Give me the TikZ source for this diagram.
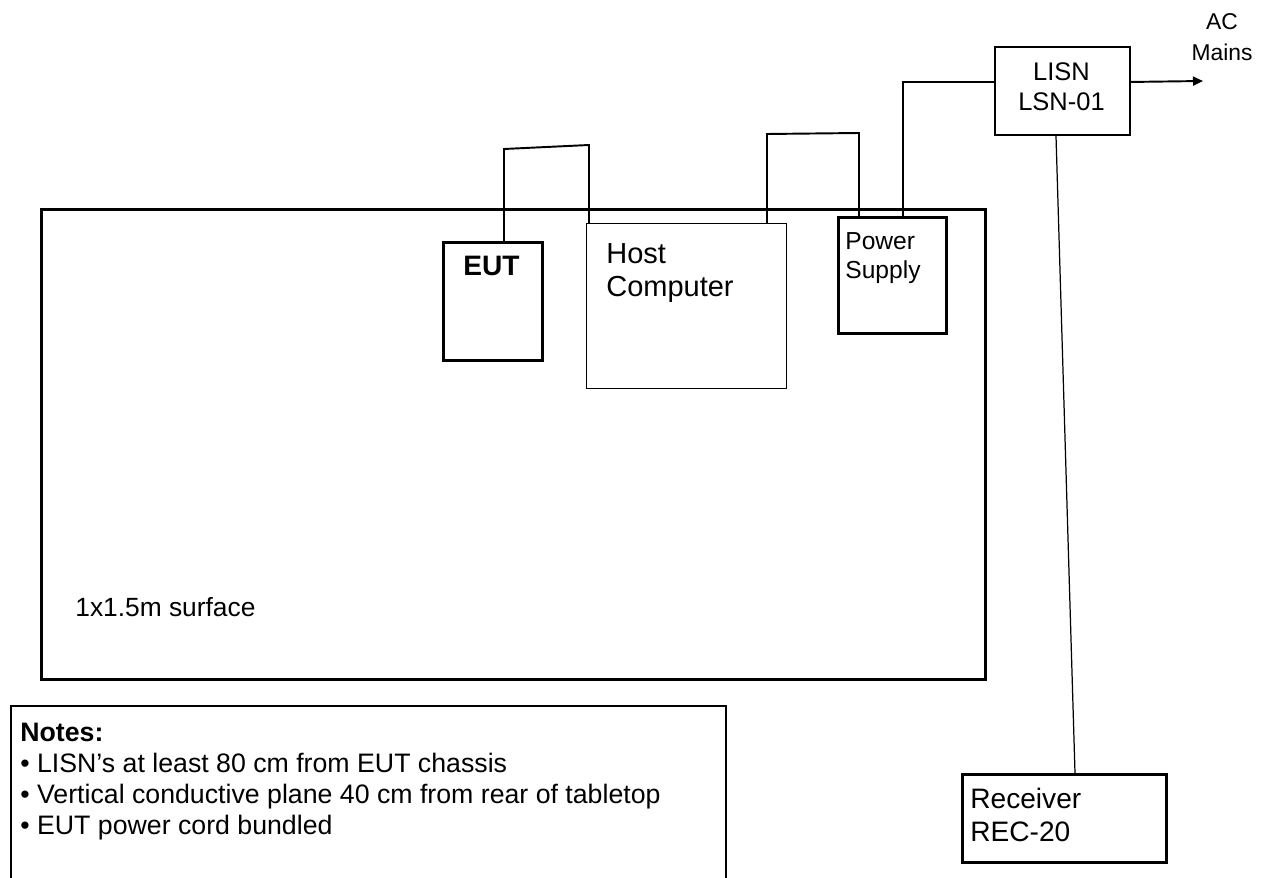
\documentclass[tikz,border=0pt]{standalone}
\usepackage{fontspec}
\setmainfont{Liberation Sans}
\usetikzlibrary{calc,positioning,arrows.meta}

\begin{document}
\begin{tikzpicture}[x=0.02cm,y=-0.02cm,
        unit/.style={draw,line width=1.6pt,inner sep=0pt,anchor=north west},
        wire/.style={line width=1.1pt},
        txt/.style={inner sep=0pt,anchor=north west,align=left}]
        \useasboundingbox (0,0) rectangle (1269,878);
        % tabletop and units
        \node[unit,minimum width=18.88cm,minimum height=9.4cm] (table) at (40,208) {};
        \node[unit,minimum width=1.98cm,minimum height=2.36cm] (eut) at (442,241) {};
        \node[unit,line width=0.6pt,minimum width=4cm,minimum height=3.3cm] (host) at (586,223) {};
        \node[unit,minimum width=2.16cm,minimum height=2.32cm] (ps) at (837,216) {};
        \node[unit,line width=1.1pt,minimum width=2.7cm,minimum height=1.76cm] (lisn) at (994,46) {};
        \node[unit,minimum width=4.08cm,minimum height=1.76cm] (rec) at (961,773) {};
        \node[unit,line width=1.1pt,minimum width=14.3cm,minimum height=3.6cm] (notes) at (10,705) {};
        % texts
        \node[txt,font=\fontsize{15}{18}\selectfont] (surf) at (75,597) {1x1.5m surface};
        \node[inner sep=0pt,anchor=north,font=\fontsize{16}{19}\selectfont\bfseries] (euttxt) at (491.5,256) {EUT};
        \node[txt,font=\fontsize{16.5}{18.7}\selectfont] (hosttxt) at (606,243) {Host\\Computer};
        \node[txt,font=\fontsize{14}{16.4}\selectfont] (pstxt) at (845,232) {Power\\Supply};
        \node[inner sep=0pt,anchor=north,align=center,font=\fontsize{14.5}{17}\selectfont] (lisntxt) at (1061.5,62) {LISN\\LSN-01};
        \node[inner sep=0pt,anchor=north,align=center,font=\fontsize{13}{18}\selectfont] (mainstxt) at (1222,13) {AC\\Mains};
        \node[txt,font=\fontsize{16}{18.7}\selectfont] (rectxt) at (970,788) {Receiver\\REC-20};
        \node[txt,font=\fontsize{15.2}{17.6}\selectfont] (notestxt) at (20,723)
            {\textbf{Notes:}\\
             • LISN’s at least 80 cm from EUT chassis\\
             • Vertical conductive plane 40 cm from rear of tabletop\\
             • EUT power cord bundled};
        % cables
        \coordinate (e1) at (504,149);
        \coordinate (e2) at (589,145);
        \draw[wire] ($(eut.north west)+(62,0)$) -- (e1) -- (e2) -- (e2 |- host.north);
        \coordinate (h1) at (767,134);
        \coordinate (h2) at (859,133);
        \draw[wire] ($(host.north west)+(181,0)$) -- (h1) -- (h2) -- (h2 |- ps.north);
        \draw[wire] ($(ps.north west)+(66,0)$) |- ($(lisn.north west)!0.4!(lisn.south west)$);
        \coordinate (mains) at (1203,81);
        \draw[wire,-{Triangle[length=5.7pt,width=5.1pt]}] ($(lisn.north east)!0.4!(lisn.south east)$) -- (mains);
        \draw[line width=0.7pt] ($(lisn.south west)+(62,0)$) -- ($(rec.north west)+(114,0)$);
    \end{tikzpicture}
\end{document}
